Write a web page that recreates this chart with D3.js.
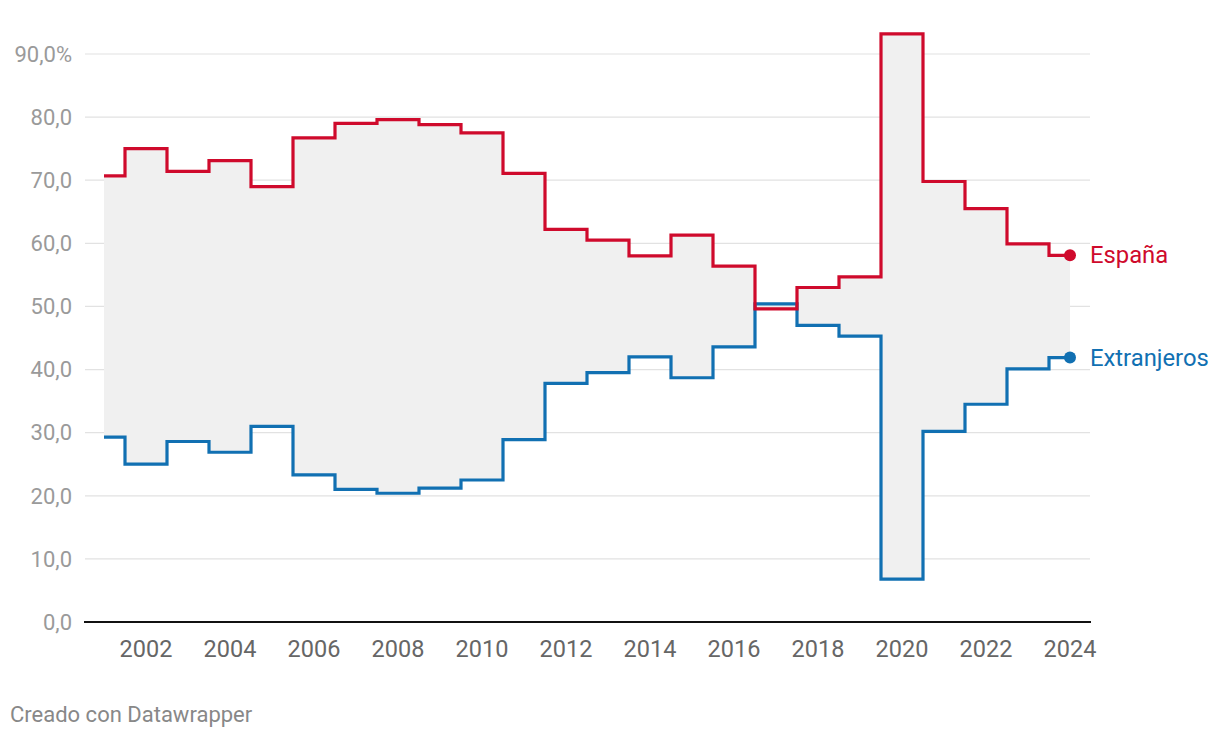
<!DOCTYPE html>
<html><head><meta charset="utf-8">
<script src="https://cdn.jsdelivr.net/npm/d3@7"></script>
<style>body{margin:0;background:#fff;font-family:Roboto,sans-serif}</style>
</head><body><svg id="c" width="1220" height="738"></svg>
<script>
const years = d3.range(2001, 2025);
const espana = [70.7,75.0,71.4,73.1,69.0,76.7,79.0,79.6,78.8,77.5,71.1,62.2,60.5,58.0,61.3,56.4,49.6,53.0,54.7,93.2,69.8,65.5,59.9,58.1];
const extranjeros = [29.3,25.0,28.6,26.9,31.0,23.3,21.0,20.4,21.2,22.5,28.9,37.8,39.5,42.0,38.7,43.6,50.4,47.0,45.3,6.8,30.2,34.5,40.1,41.9];
const yTicks = [0,10,20,30,40,50,60,70,80,90];
const xTicks = [2002,2004,2006,2008,2010,2012,2014,2016,2018,2020,2022,2024];

const svg = d3.select("#c");
const x = d3.scaleLinear().domain([2001,2024]).range([104,1070]);
const y = d3.scaleLinear().domain([0,90]).range([622,54]);
const red = "#cf0a2c", blue = "#1170b2";
const fmt = v => (v.toFixed(1).replace(".", ",")) + (v===90?"%":"");

// grid
svg.append("g").selectAll("line").data(yTicks.filter(d=>d>0)).join("line")
  .attr("x1",85).attr("x2",1090).attr("y1",d=>y(d)).attr("y2",d=>y(d))
  .attr("stroke","#e2e2e2").attr("stroke-width",1.2);
svg.append("g").selectAll("text").data(yTicks).join("text")
  .attr("x",72).attr("y",d=>y(d)+7.8).attr("text-anchor","end")
  .attr("font-size",22).attr("fill","#9a9a9a").text(fmt);

const data = years.map((yr,i)=>({yr, e:espana[i], x:extranjeros[i]}));
const area = d3.area().curve(d3.curveStep).x(d=>x(d.yr)).y0(d=>y(d.x)).y1(d=>y(d.e));
svg.append("path").datum(data).attr("d",area).attr("fill","#f0f0f0");

// axis
svg.append("line").attr("x1",84).attr("x2",1091).attr("y1",622).attr("y2",622)
  .attr("stroke","#111").attr("stroke-width",2);
svg.append("g").selectAll("text").data(xTicks).join("text")
  .attr("x",d=>x(d)).attr("y",656.5).attr("text-anchor","middle")
  .attr("font-size",23.5).attr("fill","#666").text(d=>d);

const line = key => d3.line().curve(d3.curveStep).x(d=>x(d.yr)).y(d=>y(d[key]));
svg.append("path").datum(data).attr("d",line("x")).attr("fill","none").attr("stroke",blue).attr("stroke-width",3.2);
svg.append("path").datum(data).attr("d",line("e")).attr("fill","none").attr("stroke",red).attr("stroke-width",3.2);

const last = data[data.length-1];
svg.append("circle").attr("cx",x(last.yr)).attr("cy",y(last.e)).attr("r",6).attr("fill",red);
svg.append("circle").attr("cx",x(last.yr)).attr("cy",y(last.x)).attr("r",6).attr("fill",blue);
svg.append("text").attr("x",1090).attr("y",y(last.e)+8).attr("font-size",23.8).attr("fill",red).text("España");
svg.append("text").attr("x",1090).attr("y",y(last.x)+8).attr("font-size",23.8).attr("fill",blue).text("Extranjeros");

svg.append("text").attr("x",10).attr("y",722).attr("font-size",22).attr("fill","#888").text("Creado con Datawrapper");
</script></body></html>
